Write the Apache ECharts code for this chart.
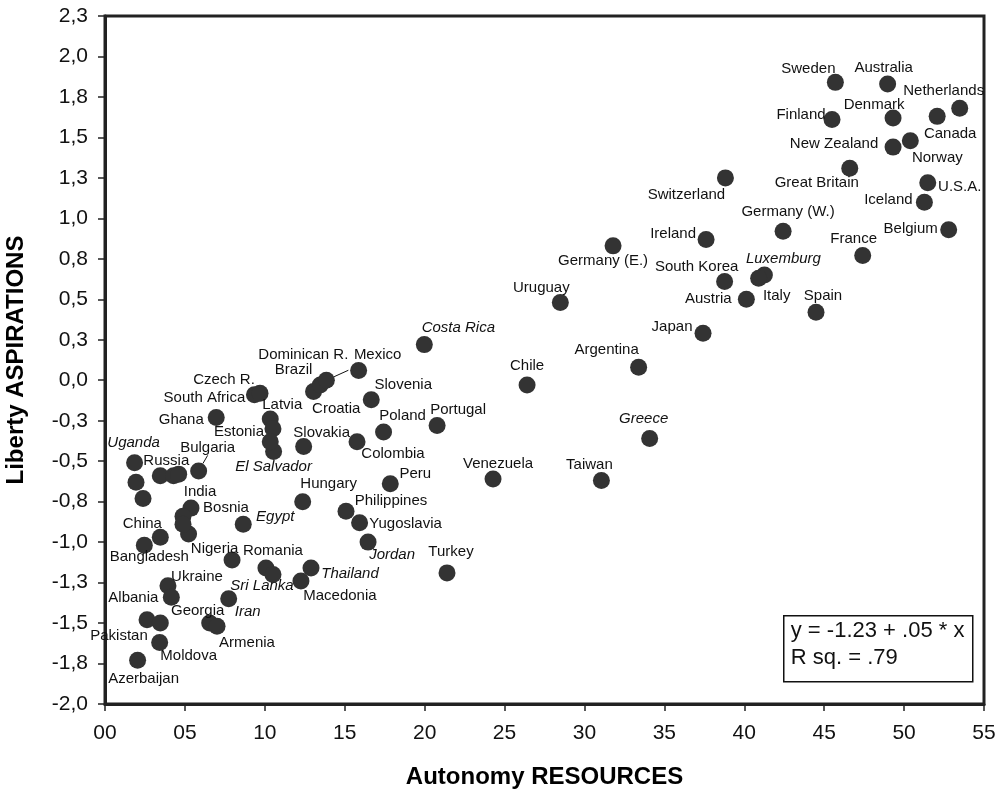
<!DOCTYPE html>
<html>
<head>
<meta charset="utf-8">
<script src="https://cdn.jsdelivr.net/npm/echarts@6/dist/echarts.min.js"></script>
<style>
html,body{margin:0;padding:0;background:#fff;}
#chart{width:999px;height:797px;}
</style>
</head>
<body>
<div id="chart"></div>
<script>
// ---- data ----
const countries = [
  'Uganda','Russia','Bulgaria','India','Bosnia','Nigeria','China','Bangladesh','Egypt','Romania',
  'Sri Lanka','Hungary','Thailand','Macedonia','Ukraine','Albania','Iran','Georgia','Armenia','Pakistan',
  'Moldova','Azerbaijan','Ghana','South Africa','Czech R.','Latvia','Estonia','El Salvador','Slovakia','Brazil',
  'Croatia','Dominican R.','Mexico','Slovenia','Poland','Portugal','Colombia','Peru','Venezuela','Philippines',
  'Yugoslavia','Jordan','Turkey','Costa Rica','Chile','Germany (E.)','Uruguay','Argentina','Greece','Taiwan',
  'Sweden','Australia','Netherlands','Canada','Denmark','Finland','New Zealand','Norway','Great Britain','Switzerland',
  'U.S.A.','Iceland','Belgium','Germany (W.)','Ireland','France','Luxemburg','Italy','South Korea','Austria',
  'Spain','Japan',
  '','','','','','','',''
];
const autonomy = [
  1.85,3.46,5.86,5.38,4.88,5.23,3.46,2.46,8.65,10.07,
  10.51,12.37,12.89,12.26,3.94,4.15,7.74,6.55,7.01,2.63,
  3.42,2.04,6.96,9.35,9.70,10.34,10.51,10.55,12.43,13.05,
  13.47,13.85,15.87,16.66,17.43,20.78,15.77,17.85,24.28,15.08,
  15.93,16.46,21.40,19.98,26.41,31.79,28.49,33.39,34.08,31.06,
  45.70,48.97,53.48,52.07,49.31,45.49,49.31,50.39,46.60,38.82,
  51.48,51.27,52.79,42.43,37.61,47.41,41.26,40.90,38.77,40.13,
  44.49,37.42,
  1.94,2.38,4.29,4.61,4.88,7.95,3.46,10.34
];
const liberty = [
  -0.51,-0.59,-0.56,-0.79,-0.84,-0.95,-0.97,-1.02,-0.89,-1.16,
  -1.20,-0.75,-1.16,-1.24,-1.27,-1.34,-1.35,-1.50,-1.52,-1.48,
  -1.62,-1.73,-0.23,-0.09,-0.08,-0.24,-0.30,-0.44,-0.41,-0.07,
  -0.03,0.00,0.06,-0.12,-0.32,-0.28,-0.38,-0.64,-0.61,-0.81,
  -0.88,-1.00,-1.19,0.22,-0.03,0.83,0.48,0.08,-0.36,-0.62,
  1.84,1.83,1.68,1.63,1.62,1.61,1.44,1.48,1.31,1.25,
  1.22,1.10,0.93,0.92,0.87,0.77,0.65,0.63,0.61,0.50,
  0.42,0.29,
  -0.63,-0.73,-0.59,-0.58,-0.89,-1.11,-1.50,-0.38
];
const italicCountries = ['Uganda','El Salvador','Egypt','Sri Lanka','Iran','Thailand','Jordan','Costa Rica','Greece','Luxemburg'];
const leaderCountries = ['Bulgaria','Dominican R.'];
const xTicks = {min:0, max:55, interval:5};
const yTicks = {min:-2, max:2.25, interval:0.25};
const xTitle = 'Autonomy RESOURCES';
const yTitle = 'Liberty ASPIRATIONS';
const fitLines = ['y = -1.23 + .05 * x', 'R sq. = .79'];

// ---- label placement (layout only) ----
const labelOffsets = {
  'Uganda':[-1,-20],'Russia':[6,-15],'Bulgaria':[9,-23],'India':[9,-16],'Bosnia':[43,-8],
  'Nigeria':[26,15],'China':[-18,-13],'Bangladesh':[5,12],'Egypt':[32,-7],'Romania':[7,-17],
  'Sri Lanka':[-11,11],'Hungary':[26,-18],'Thailand':[39,6],'Macedonia':[39,15],'Ukraine':[29,-9],
  'Albania':[-38,1],'Iran':[19,13],'Georgia':[-12,-12],'Armenia':[30,17],'Pakistan':[-28,16],
  'Moldova':[29,13],'Azerbaijan':[6,19],'Ghana':[-35,2],'South Africa':[-50,3],'Czech R.':[-36,-13],
  'Latvia':[12,-14],'Estonia':[-34,3],'El Salvador':[0,15],'Slovakia':[18,-14],'Brazil':[-20,-22],
  'Croatia':[16,24],'Dominican R.':[-23,-25],'Mexico':[19,-16],'Slovenia':[32,-15],'Poland':[19,-16],
  'Portugal':[21,-16],'Colombia':[36,12],'Peru':[25,-10],'Venezuela':[5,-15],'Philippines':[45,-11],
  'Yugoslavia':[46,1],'Jordan':[24,13],'Turkey':[4,-21],'Costa Rica':[34,-17],'Chile':[0,-19],
  'Germany (E.)':[-10,15],'Uruguay':[-19,-15],'Argentina':[-32,-17],'Greece':[-6,-20],'Taiwan':[-12,-16],
  'Sweden':[-27,-14],'Australia':[-4,-16],'Netherlands':[-16,-17],'Canada':[13,17],'Denmark':[-19,-13],
  'Finland':[-31,-5],'New Zealand':[-59,-3],'Norway':[27,17],'Great Britain':[-33,15],'Switzerland':[-39,17],
  'U.S.A.':[32,4],'Iceland':[-36,-2],'Belgium':[-38,-1],'Germany (W.)':[5,-19],'Ireland':[-33,-6],
  'France':[-9,-17],'Luxemburg':[19,-16],'Italy':[18,18],'South Korea':[-28,-15],'Austria':[-38,0],
  'Spain':[7,-16],'Japan':[-31,-6]
};

const FONT = "'Liberation Sans', Arial, Helvetica, sans-serif";

const points = countries.map((c, i) => ({
  name: c,
  value: [autonomy[i], liberty[i]],
  label: {
    show: c !== '',
    offset: labelOffsets[c] || [0, 0],
    fontStyle: italicCountries.includes(c) ? 'italic' : 'normal'
  },
  labelLine: { show: leaderCountries.includes(c) }
}));

function yFmt(v) {
  const r = Math.round(Math.abs(v) * 10 + 1e-9) / 10;
  const s = (v < 0 && r !== 0 ? '-' : '') + r.toFixed(1);
  return s.replace('.', ',');
}
function xFmt(v) {
  return (v < 10 ? '0' : '') + v;
}

const chart = echarts.init(document.getElementById('chart'), null, {renderer: 'canvas'});
chart.setOption({
  animation: false,
  backgroundColor: '#fff',
  grid: {
    left: 105, right: 15, top: 16, bottom: 93,
    containLabel: false, outerBoundsMode: 'none',
    show: true, borderColor: '#222', borderWidth: 3, backgroundColor: 'transparent'
  },
  xAxis: {
    type: 'value', min: xTicks.min, max: xTicks.max, interval: xTicks.interval,
    name: xTitle, nameLocation: 'middle', nameGap: 61,
    nameTextStyle: {fontFamily: FONT, fontSize: 24, fontWeight: 'bold', color: '#000'},
    axisLine: {show: true, onZero: false, lineStyle: {color: '#222', width: 3}},
    axisTick: {show: true, length: 7, lineStyle: {color: '#222', width: 1.5}},
    axisLabel: {formatter: xFmt, fontFamily: FONT, fontSize: 21, color: '#111', margin: 19},
    splitLine: {show: false}
  },
  yAxis: {
    type: 'value', min: yTicks.min, max: yTicks.max, interval: yTicks.interval,
    name: yTitle, nameLocation: 'middle', nameGap: 77, nameRotate: 90,
    nameTextStyle: {fontFamily: FONT, fontSize: 24, fontWeight: 'bold', color: '#000'},
    axisLine: {show: true, onZero: false, lineStyle: {color: '#222', width: 3}},
    axisTick: {show: true, length: 7, lineStyle: {color: '#222', width: 1.5}},
    axisLabel: {formatter: yFmt, fontFamily: FONT, fontSize: 21, color: '#111', margin: 17},
    splitLine: {show: false}
  },
  series: [{
    type: 'scatter',
    symbol: 'circle',
    symbolSize: 17,
    itemStyle: {color: '#333', opacity: 1},
    label: {
      show: true, position: 'inside', formatter: '{b}',
      color: '#111', fontFamily: FONT, fontSize: 15
    },
    labelLine: {show: false, lineStyle: {color: '#111', width: 1}},
    emphasis: {disabled: true},
    data: points,
    z: 3
  }],
  graphic: [{
    type: 'group', left: 783, top: 615,
    children: [
      {type: 'rect', shape: {x: 0, y: 0, width: 189, height: 66},
       style: {fill: '#fff', stroke: '#111', lineWidth: 1.5}},
      {type: 'text', x: 7, y: 4, style: {text: fitLines[0], font: '22px ' + FONT, fill: '#111'}},
      {type: 'text', x: 7, y: 31, style: {text: fitLines[1], font: '22px ' + FONT, fill: '#111'}}
    ]
  }]
});
</script>
</body>
</html>
